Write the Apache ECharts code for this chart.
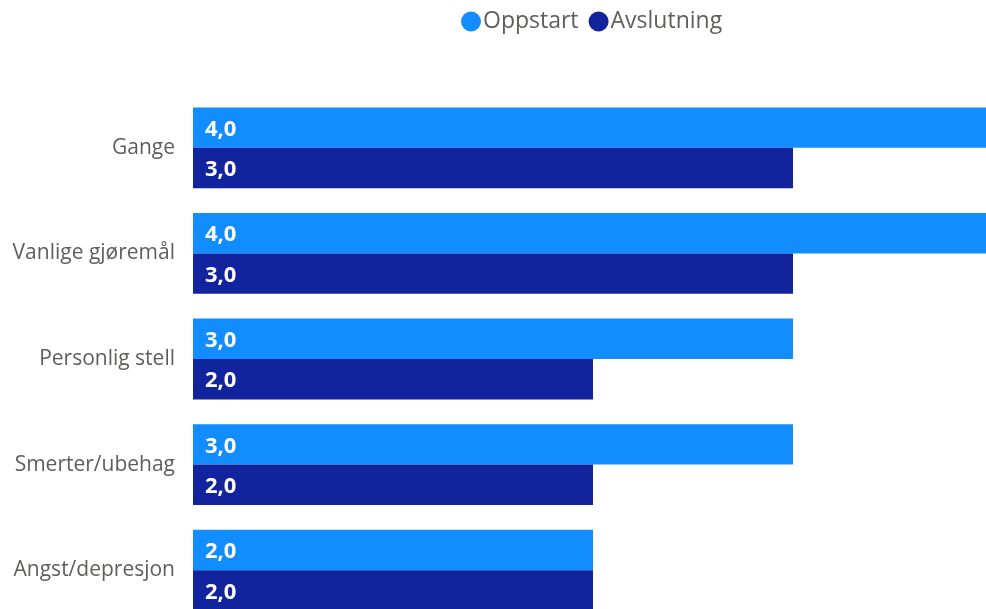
<!DOCTYPE html>
<html>
<head>
<meta charset="utf-8">
<script src="https://cdn.jsdelivr.net/npm/echarts@6/dist/echarts.min.js"></script>
<style>
  html, body { margin: 0; padding: 0; background: #fff; }
  #chart { width: 986px; height: 609px; }
</style>
</head>
<body>
<div id="chart"></div>
<script>
// Health dimensions, top to bottom
const categories = ['Gange', 'Vanlige gjøremål', 'Personlig stell', 'Smerter/ubehag', 'Angst/depresjon'];
const seriesNames = ['Oppstart', 'Avslutning'];
const oppstart = [4, 4, 3, 3, 2];
const avslutning = [3, 3, 2, 2, 2];

const fontFamily = '"Open Sans", "Noto Sans", sans-serif';
const fmt = v => v.toFixed(1).replace('.', ',');

const chart = echarts.init(document.getElementById('chart'), null, { renderer: 'canvas' });

const barLabel = {
  show: true,
  position: 'insideLeft',
  distance: 12,
  offset: [0, 2],
  color: '#ffffff',
  fontWeight: 'bold',
  fontSize: 22,
  fontFamily: fontFamily,
  formatter: p => fmt(p.value)
};

chart.setOption({
  animation: false,
  legend: {
    data: seriesNames,
    top: 5,
    left: 456,
    icon: 'circle',
    itemWidth: 20,
    itemHeight: 20,
    itemGap: 10,
    textStyle: { color: '#605e5c', fontSize: 23, fontFamily: fontFamily, padding: [0, 0, 0, -3] }
  },
  // the value axis runs a little past the right edge, so the 4,0 bars are cut off
  grid: { left: 193, top: 95, width: 800, height: 528, outerBoundsMode: 'none', containLabel: false },
  xAxis: {
    type: 'value',
    min: 0,
    max: 4,
    show: false
  },
  yAxis: {
    type: 'category',
    data: categories,
    inverse: true,
    axisLine: { show: false },
    axisTick: { show: false },
    axisLabel: { color: '#605e5c', fontSize: 21, fontFamily: fontFamily, margin: 18, padding: [4, 0, 0, 0] }
  },
  series: [
    {
      name: seriesNames[0],
      type: 'bar',
      data: oppstart,
      itemStyle: { color: '#118dff' },
      barGap: '0%',
      barCategoryGap: '23.5%',
      label: barLabel
    },
    {
      name: seriesNames[1],
      type: 'bar',
      data: avslutning,
      itemStyle: { color: '#12239e' },
      barGap: '0%',
      barCategoryGap: '23.5%',
      label: barLabel
    }
  ]
});
</script>
</body>
</html>
